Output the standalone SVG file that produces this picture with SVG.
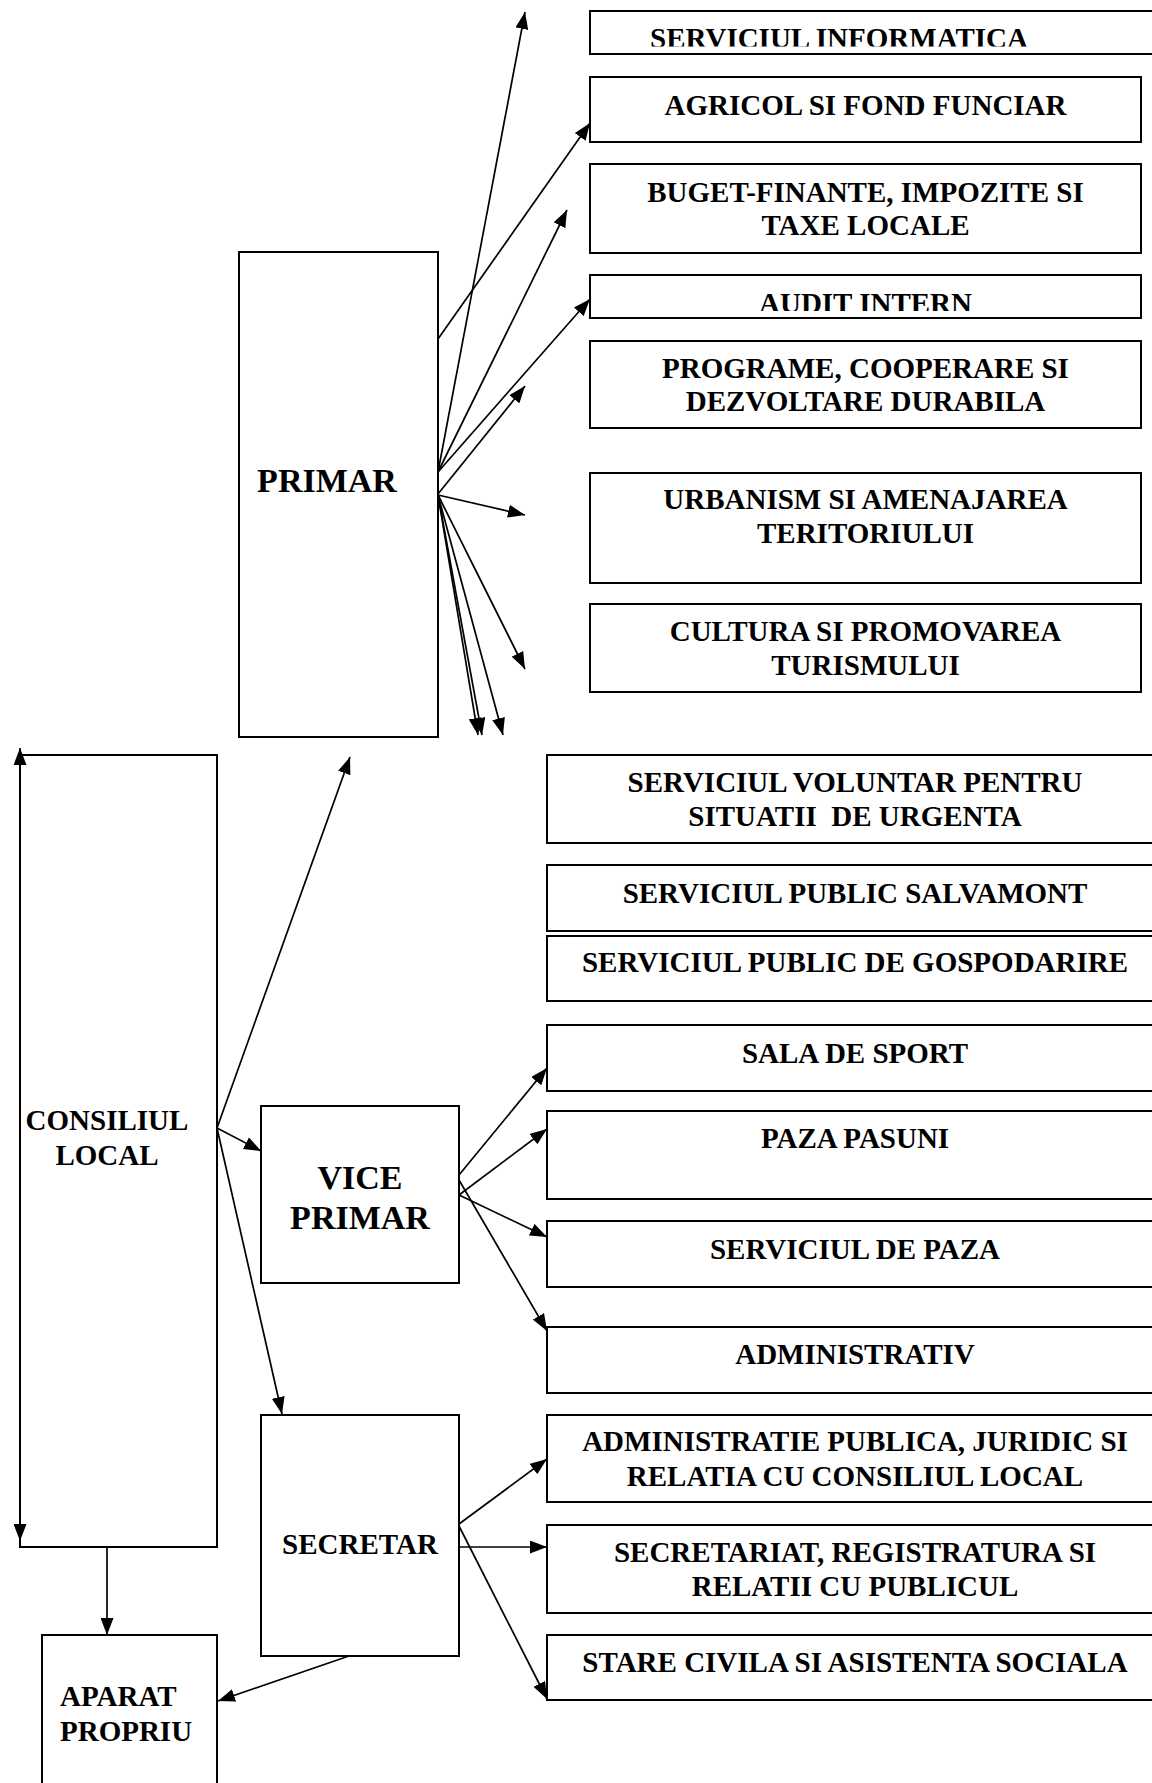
<svg xmlns="http://www.w3.org/2000/svg" width="1152" height="1783" viewBox="0 0 1152 1783">
<style>
  .box{fill:none;stroke:#000;stroke-width:2}
  .t{font-family:"Liberation Serif","Times New Roman",serif;font-weight:bold;font-size:29px;fill:#000;text-anchor:middle}
  .big{font-size:34px}
  .c line{stroke:#000;stroke-width:1.7;marker-end:url(#ah)}
</style>
<defs>
  <marker id="ah" markerUnits="userSpaceOnUse" markerWidth="18" markerHeight="13" refX="17" refY="6.5" orient="auto-start-reverse">
    <path d="M0,0 L17,6.5 L0,13 z" fill="#000"/>
  </marker>
  <clipPath id="clipInfo"><rect x="590" y="0" width="600" height="46.5"/></clipPath>
  <clipPath id="clipAudit"><rect x="590" y="270" width="600" height="41"/></clipPath>
</defs>
<rect width="1152" height="1783" fill="#fff"/>

<g id="n-informatica"><rect class="box" x="590" y="11" width="580" height="43"/><text class="t" x="839" y="48" clip-path="url(#clipInfo)">SERVICIUL INFORMATICA</text></g>
<g id="n-agricol"><rect class="box" x="590" y="77" width="551" height="65"/><text class="t" x="865.5" y="115">AGRICOL SI FOND FUNCIAR</text></g>
<g id="n-buget"><rect class="box" x="590" y="164" width="551" height="89"/><text class="t" x="865.5" y="202">BUGET-FINANTE, IMPOZITE SI</text><text class="t" x="865.5" y="235">TAXE LOCALE</text></g>
<g id="n-audit"><rect class="box" x="590" y="275" width="551" height="43"/><text class="t" x="865.5" y="312.5" clip-path="url(#clipAudit)">AUDIT INTERN</text></g>
<g id="n-programe"><rect class="box" x="590" y="341" width="551" height="87"/><text class="t" x="865.5" y="378">PROGRAME, COOPERARE SI</text><text class="t" x="865.5" y="411">DEZVOLTARE DURABILA</text></g>
<g id="n-urbanism"><rect class="box" x="590" y="473" width="551" height="110"/><text class="t" x="865.5" y="509">URBANISM SI AMENAJAREA</text><text class="t" x="865.5" y="543">TERITORIULUI</text></g>
<g id="n-cultura"><rect class="box" x="590" y="604" width="551" height="88"/><text class="t" x="865.5" y="641">CULTURA SI PROMOVAREA</text><text class="t" x="865.5" y="675">TURISMULUI</text></g>

<g id="n-primar"><rect class="box" x="239" y="252" width="199" height="485"/><text class="t big" x="327" y="492">PRIMAR</text></g>
<g id="n-consiliul"><rect class="box" x="20" y="755" width="197" height="792"/><text class="t" x="107" y="1130">CONSILIUL</text><text class="t" x="107" y="1165">LOCAL</text></g>
<g id="n-vice"><rect class="box" x="261" y="1106" width="198" height="177"/><text class="t big" x="360" y="1189">VICE</text><text class="t big" x="360" y="1229">PRIMAR</text></g>
<g id="n-secretar"><rect class="box" x="261" y="1415" width="198" height="241"/><text class="t" x="360" y="1554">SECRETAR</text></g>
<g id="n-aparat"><rect class="box" x="42" y="1635" width="175" height="170"/><text class="t" x="60" y="1706" style="text-anchor:start">APARAT</text><text class="t" x="60" y="1741" style="text-anchor:start">PROPRIU</text></g>

<g id="n-voluntar"><rect class="box" x="547" y="755" width="620" height="88"/><text class="t" x="855" y="792">SERVICIUL VOLUNTAR PENTRU</text><text class="t" x="855" y="826" style="white-space:pre">SITUATII  DE URGENTA</text></g>
<g id="n-salvamont"><rect class="box" x="547" y="865" width="620" height="66"/><text class="t" x="855" y="903">SERVICIUL PUBLIC SALVAMONT</text></g>
<g id="n-gospodarire"><rect class="box" x="547" y="936" width="620" height="65"/><text class="t" x="855" y="972">SERVICIUL PUBLIC DE GOSPODARIRE</text></g>
<g id="n-sala"><rect class="box" x="547" y="1025" width="620" height="66"/><text class="t" x="855" y="1063">SALA DE SPORT</text></g>
<g id="n-pasuni"><rect class="box" x="547" y="1111" width="620" height="88"/><text class="t" x="855" y="1148">PAZA PASUNI</text></g>
<g id="n-paza"><rect class="box" x="547" y="1221" width="620" height="66"/><text class="t" x="855" y="1259">SERVICIUL DE PAZA</text></g>
<g id="n-administrativ"><rect class="box" x="547" y="1327" width="620" height="66"/><text class="t" x="855" y="1364">ADMINISTRATIV</text></g>
<g id="n-adminpublica"><rect class="box" x="547" y="1415" width="620" height="87"/><text class="t" x="855" y="1451">ADMINISTRATIE PUBLICA, JURIDIC SI</text><text class="t" x="855" y="1486">RELATIA CU CONSILIUL LOCAL</text></g>
<g id="n-secretariat"><rect class="box" x="547" y="1525" width="620" height="88"/><text class="t" x="855" y="1562">SECRETARIAT, REGISTRATURA SI</text><text class="t" x="855" y="1596">RELATII CU PUBLICUL</text></g>
<g id="n-stare"><rect class="box" x="547" y="1635" width="620" height="65"/><text class="t" x="855" y="1672">STARE CIVILA SI ASISTENTA SOCIALA</text></g>

<g id="connectors" class="c">
  <line x1="438" y1="472" x2="525" y2="12"/>
  <line x1="438" y1="339" x2="590" y2="123"/>
  <line x1="438" y1="472" x2="567" y2="210"/>
  <line x1="438" y1="472" x2="590" y2="299"/>
  <line x1="438" y1="494" x2="525" y2="386"/>
  <line x1="438" y1="495" x2="525" y2="515"/>
  <line x1="438" y1="495" x2="525" y2="669"/>
  <line x1="438" y1="495" x2="478" y2="735"/>
  <line x1="438" y1="495" x2="482" y2="735"/>
  <line x1="438" y1="495" x2="503" y2="735"/>

  <line x1="217" y1="1128" x2="350" y2="757"/>
  <line x1="217" y1="1128" x2="261" y2="1151"/>
  <line x1="217" y1="1128" x2="282" y2="1414"/>
  <line x1="20" y1="1541" x2="20" y2="748" style="marker-start:url(#ah)"/>
  <line x1="107" y1="1547" x2="107" y2="1635"/>

  <line x1="459" y1="1175" x2="547" y2="1068"/>
  <line x1="459" y1="1195" x2="547" y2="1129"/>
  <line x1="459" y1="1195" x2="547" y2="1237"/>
  <line x1="459" y1="1180" x2="547" y2="1331"/>

  <line x1="459" y1="1524" x2="547" y2="1459"/>
  <line x1="459" y1="1547" x2="547" y2="1547"/>
  <line x1="459" y1="1526" x2="547" y2="1699"/>
  <line x1="349" y1="1656" x2="218" y2="1701"/>
</g>
</svg>
